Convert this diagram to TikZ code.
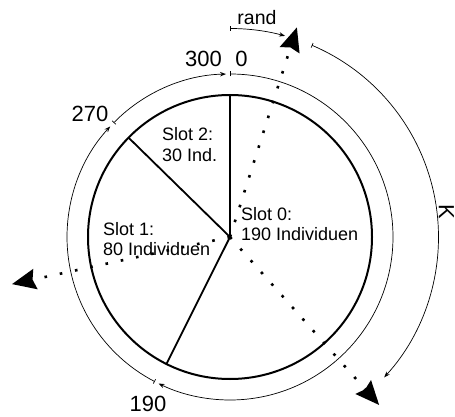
\documentclass[tikz,border=0pt]{standalone}
\usepackage{fontspec}
\setmainfont{Liberation Sans}
\usetikzlibrary{arrows.meta}
\begin{document}
\begin{tikzpicture}[x=1pt,y=1pt,
  thinarc/.style={line width=0.7pt,
    {Bar[width=5pt,line width=0.7pt]}-{Stealth[length=6pt,width=4.5pt,line width=0pt]}},
  ray/.style={line width=2.6pt, dash pattern=on 2.6pt off 13pt,
    -{Stealth[length=24pt,width=21pt,inset=3pt,line width=0pt]}},
  divider/.style={line width=1.8pt},
  slottext/.style={anchor=north west, inner sep=0pt, align=left,
    font=\fontsize{18}{20.7}\selectfont},
  numtext/.style={inner sep=0pt, font=\fontsize{22}{25}\selectfont},
  randtext/.style={inner sep=0pt, font=\fontsize{19.5}{22}\selectfont}
]
\path[use as bounding box] (0,0) rectangle (455,-417);
\coordinate (C) at (230,-237);

% inner circle and dividers
\draw[line width=2pt] (C) circle[radius=142];
\path (C) ++(90:142) coordinate (d0);
\path (C) ++(135.6:142) coordinate (d1);
\path (C) ++(243.4:142) coordinate (d2);
\draw[divider] (C) -- (d0);
\draw[divider] (C) -- (d1);
\draw[divider] (C) -- (d2);

% outer ring segments
\draw[thinarc] (C) ++(90:163) arc[start angle=90, end angle=-116, radius=163];
\draw[thinarc] (C) ++(242.5:163) arc[start angle=242.5, end angle=137.3, radius=163];
\draw[thinarc] (C) ++(135.5:163) arc[start angle=135.5, end angle=91.4, radius=163];

% K arc and rand arc
\draw[thinarc] (C) ++(66.9:208.5) arc[start angle=66.9, end angle=-42.3, radius=208.5];
\draw[thinarc] (C) ++(90:208.5) arc[start angle=90, end angle=74.7, radius=208.5];

% dotted rays
\path (C) ++(72.3:220) coordinate (t1);
\path (C) ++(192.2:223) coordinate (t2);
\path (C) ++(-48.4:224.6) coordinate (t3);
\draw[ray] (C) -- (t1);
\draw[ray] (C) -- (t2);
\draw[ray] (C) -- (t3);

% labels
\node[randtext] (lrand) at (257,-18) {rand};
\node[numtext] (l300) at (203.5,-58.5) {300};
\node[numtext] (l0) at (241.5,-58.5) {0};
\node[numtext] (l270) at (90,-114) {270};
\node[numtext] (l190) at (148,-404) {190};
\node[numtext, rotate=-90] (lK) at (446.5,-212) {K};

\node[slottext] (s2) at (162,-127.5) {Slot 2:\\30 Ind.};
\node[slottext] (s1) at (103,-222) {Slot 1:\\80 Individuen};
\node[slottext] (s0) at (241,-207) {Slot 0:\\190 Individuen};
\end{tikzpicture}
\end{document}
